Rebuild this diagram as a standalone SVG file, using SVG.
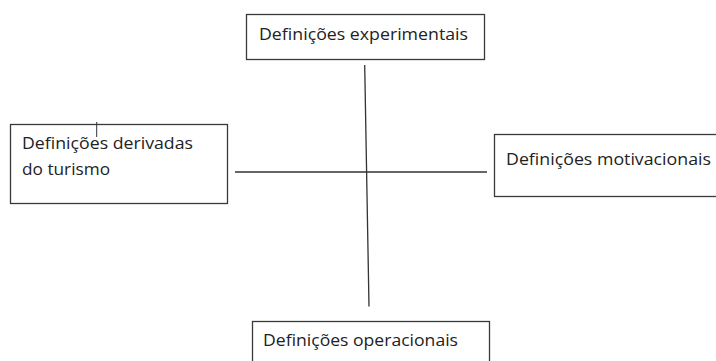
<svg xmlns="http://www.w3.org/2000/svg" width="716" height="361" viewBox="0 0 716 361">
<style>
.box{fill:#fff;stroke:#3a3a3a;stroke-width:1.3}
.lbl{font-family:"Open Sans","Liberation Sans",sans-serif;font-size:16.5px;fill:#222}
.con{stroke:#333;stroke-width:1.3;fill:none}
</style>
<rect width="716" height="361" fill="#fff"/>
<g id="connectors">
<line class="con" x1="235" y1="172" x2="487" y2="172"/>
<line class="con" x1="364.7" y1="65" x2="369" y2="306.5"/>
</g>
<g id="node-experimentais">
<rect class="box" x="246.5" y="14.5" width="238" height="45"/>
<text class="lbl" x="259" y="40" textLength="209" lengthAdjust="spacingAndGlyphs">Definições experimentais</text>
</g>
<g id="node-derivadas">
<rect class="box" x="10.5" y="124.5" width="217" height="79"/>
<text class="lbl" x="22" y="149" textLength="171" lengthAdjust="spacingAndGlyphs">Definições derivadas</text>
<text class="lbl" x="22" y="175" textLength="88" lengthAdjust="spacingAndGlyphs">do turismo</text>
<line x1="96.7" y1="122" x2="96.7" y2="137" stroke="#333" stroke-width="1"/>
</g>
<g id="node-motivacionais">
<rect class="box" x="494.5" y="134.5" width="230" height="62"/>
<text class="lbl" x="506" y="165" textLength="205" lengthAdjust="spacingAndGlyphs">Definições motivacionais</text>
</g>
<g id="node-operacionais">
<rect class="box" x="252.5" y="321.5" width="237" height="50"/>
<text class="lbl" x="263" y="346" textLength="195" lengthAdjust="spacingAndGlyphs">Definições operacionais</text>
</g>
</svg>
